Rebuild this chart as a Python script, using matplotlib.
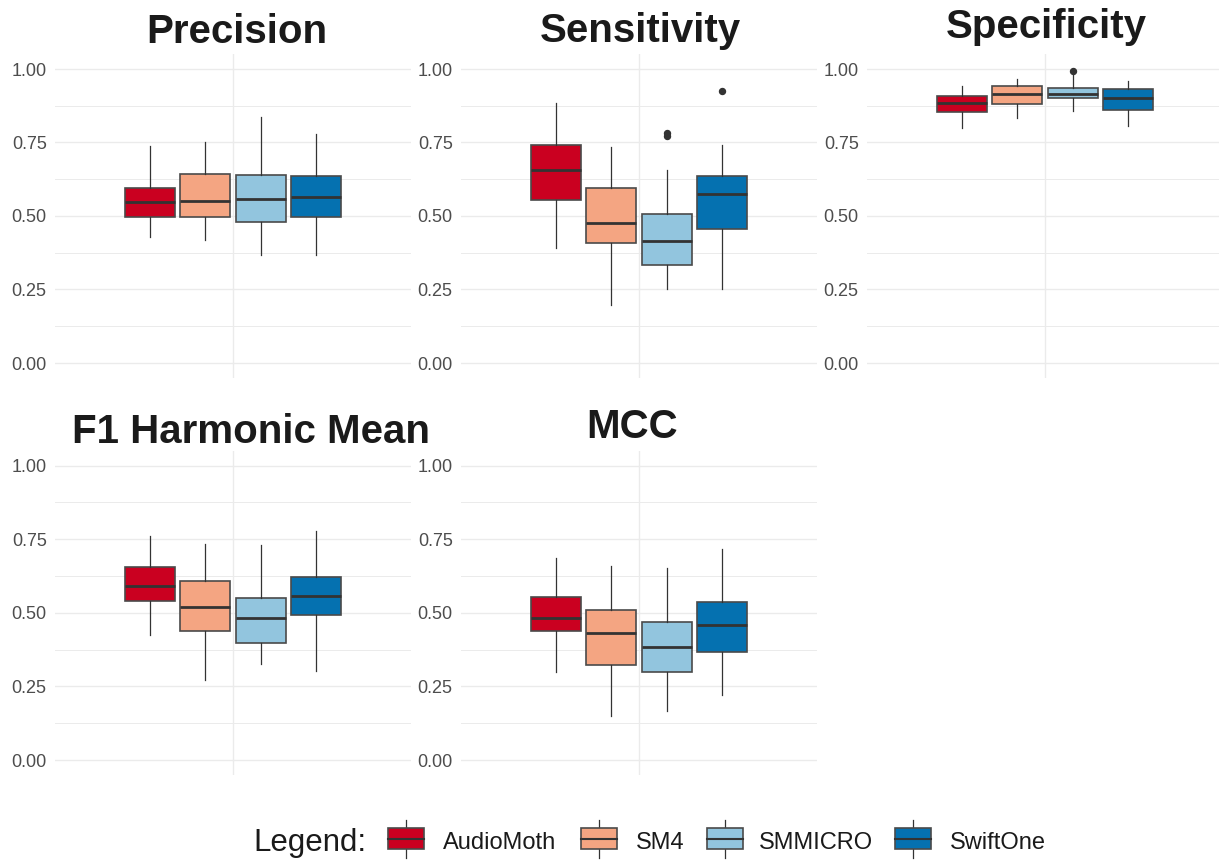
import matplotlib
matplotlib.use("Agg")
import matplotlib.pyplot as plt
from matplotlib.patches import Rectangle
from matplotlib.lines import Line2D

plt.rcParams['font.family'] = ['Liberation Sans', 'DejaVu Sans']

# ---------------- data ----------------
recorders = ["AudioMoth", "SM4", "SMMICRO", "SwiftOne"]
colors = ["#CA0020", "#F4A582", "#92C5DE", "#0571B0"]
yticks = [0.00, 0.25, 0.50, 0.75, 1.00]
ytick_labels = ["0.00", "0.25", "0.50", "0.75", "1.00"]

precision_lo = [0.430, 0.418, 0.366, 0.366]
precision_q1 = [0.498, 0.498, 0.480, 0.498]
precision_med = [0.548, 0.552, 0.559, 0.563]
precision_q3 = [0.596, 0.644, 0.641, 0.637]
precision_hi = [0.738, 0.752, 0.836, 0.780]
precision_out = [[], [], [], []]

sensitivity_lo = [0.390, 0.197, 0.252, 0.252]
sensitivity_q1 = [0.554, 0.407, 0.332, 0.455]
sensitivity_med = [0.655, 0.477, 0.414, 0.576]
sensitivity_q3 = [0.740, 0.596, 0.506, 0.637]
sensitivity_hi = [0.886, 0.733, 0.657, 0.741]
sensitivity_out = [[], [], [0.781, 0.772], [0.924]]

specificity_lo = [0.798, 0.832, 0.857, 0.806]
specificity_q1 = [0.854, 0.882, 0.902, 0.862]
specificity_med = [0.884, 0.916, 0.916, 0.903]
specificity_q3 = [0.909, 0.941, 0.937, 0.931]
specificity_hi = [0.942, 0.965, 0.980, 0.960]
specificity_out = [[], [], [0.993], []]

f1_lo = [0.424, 0.271, 0.326, 0.302]
f1_q1 = [0.540, 0.438, 0.398, 0.493]
f1_med = [0.590, 0.519, 0.483, 0.558]
f1_q3 = [0.655, 0.607, 0.552, 0.622]
f1_hi = [0.762, 0.735, 0.731, 0.778]
f1_out = [[], [], [], []]

mcc_lo = [0.298, 0.150, 0.168, 0.220]
mcc_q1 = [0.438, 0.324, 0.299, 0.367]
mcc_med = [0.483, 0.432, 0.385, 0.460]
mcc_q3 = [0.555, 0.509, 0.469, 0.537]
mcc_hi = [0.687, 0.660, 0.651, 0.718]
mcc_out = [[], [], [], []]

titles = ["Precision", "Sensitivity", "Specificity", "F1 Harmonic Mean", "MCC"]
panels = [
    (precision_lo, precision_q1, precision_med, precision_q3, precision_hi, precision_out),
    (sensitivity_lo, sensitivity_q1, sensitivity_med, sensitivity_q3, sensitivity_hi, sensitivity_out),
    (specificity_lo, specificity_q1, specificity_med, specificity_q3, specificity_hi, specificity_out),
    (f1_lo, f1_q1, f1_med, f1_q3, f1_hi, f1_out),
    (mcc_lo, mcc_q1, mcc_med, mcc_q3, mcc_hi, mcc_out),
]

# ---------------- layout ----------------
W, H = 1219, 863
fig = plt.figure(figsize=(W / 100, H / 100), dpi=100)
fig.patch.set_facecolor("white")

YLO, YHI = -0.05, 1.05
# (left px, right px, y px of 1.0, y px of 0.0)
rects = [
    (55, 411, 69, 363),
    (461, 817, 69, 363),
    (867, 1219, 69, 363),
    (55, 411, 465.7, 760),
    (461, 817, 465.7, 760),
]
title_pos = [(237, 43), (640, 42), (1046, 38), (251, 443), (632, 438)]

GRID = "#EBEBEB"
EDGE = "#4A4A4A"
DARK = "#333333"

offsets = [-0.28125, -0.09375, 0.09375, 0.28125]
bw = 0.16875

for i, (stats_arrays, title) in enumerate(zip(panels, titles)):
    lpx, rpx, y1, y0 = rects[i]
    per = y0 - y1
    top = y1 - (YHI - 1.0) * per
    bot = y0 + (0 - YLO) * per
    ax = fig.add_axes([lpx / W, 1 - bot / H, (rpx - lpx) / W, (bot - top) / H])
    ax.set_facecolor("white")
    width_px = rpx - lpx
    ax.set_xlim(0.4, 0.4 + 1.2 * width_px / 356.0)
    ax.set_ylim(YLO, YHI)

    lo, q1, med, q3, hi, out = stats_arrays
    stats = []
    for k in range(4):
        stats.append(dict(med=med[k], q1=q1[k], q3=q3[k], whislo=lo[k],
                          whishi=hi[k], fliers=out[k], label=recorders[k]))
    bp = ax.bxp(stats, positions=[1 + o for o in offsets], widths=bw,
                patch_artist=True, showcaps=False, showfliers=True,
                boxprops=dict(edgecolor=EDGE, linewidth=1.2),
                medianprops=dict(color=DARK, linewidth=2.0, solid_capstyle="butt"),
                whiskerprops=dict(color=DARK, linewidth=0.9),
                flierprops=dict(marker="o", markersize=4.3, markerfacecolor=DARK,
                                markeredgecolor=DARK),
                zorder=3)
    for patch, c in zip(bp["boxes"], colors):
        patch.set_facecolor(c)

    # grid
    for y in yticks:
        ax.axhline(y, color=GRID, lw=1.0, zorder=0)
    for y in [0.125, 0.375, 0.625, 0.875]:
        ax.axhline(y, color=GRID, lw=0.7, zorder=0)
    ax.axvline(1.0, color=GRID, lw=1.0, zorder=0)

    ax.set_yticks(yticks)
    ax.set_yticklabels(ytick_labels)
    ax.set_xticks([])
    ax.tick_params(axis="y", length=0, pad=6, labelsize=13, labelcolor="#4D4D4D")
    for s in ax.spines.values():
        s.set_visible(False)

    tx, ty = title_pos[i]
    fig.text(tx / W, 1 - ty / H, title, ha="center", va="baseline",
             fontsize=29, fontweight="bold", color="#1A1A1A")

# ---------------- legend ----------------
lax = fig.add_axes([0, 0, 1, 1], zorder=-1)
lax.set_xlim(0, W)
lax.set_ylim(H, 0)
lax.axis("off")
lax.text(253, 851, "Legend:", fontsize=22.5, ha="left", va="baseline", color="#1A1A1A")
key_x = [388, 581, 707, 895]
text_x = [443, 636, 759, 950]
for kx, tx, c, name in zip(key_x, text_x, colors, recorders):
    lax.add_line(Line2D([kx + 18, kx + 18], [820, 858], color=DARK, lw=0.9))
    lax.add_patch(Rectangle((kx, 828), 36, 21, facecolor=c, edgecolor=EDGE, lw=1.2, zorder=2))
    lax.add_line(Line2D([kx, kx + 36], [838.5, 838.5], color=DARK, lw=1.5, zorder=3))
    lax.text(tx, 849, name, fontsize=17, ha="left", va="baseline", color="#1A1A1A")

fig.savefig("out.png", dpi=100, facecolor="white")
